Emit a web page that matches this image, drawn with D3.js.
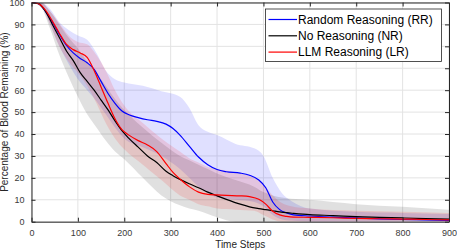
<!DOCTYPE html>
<html>
<head>
<meta charset="utf-8">
<script src="https://cdn.jsdelivr.net/npm/d3@7"></script>
<style>
    body { margin: 0; background: #fff; }
    text { font-family: "Liberation Sans", Arial, sans-serif; }
</style>
</head>
<body>
<div id="chart"></div>
<script>
// time steps for the mean curves
var timeSteps = [0, 15, 30, 45, 60, 75, 90, 105, 120, 135, 150, 165, 180, 195, 210, 230, 250, 270, 290, 305,
    320, 340, 360, 380, 400, 420, 450, 470, 490, 505, 520, 535, 550, 565, 600, 650, 700, 750, 800, 850, 900];

var meanRR = [100, 99.5, 96, 91, 85.5, 80.5, 77, 74.5, 72.5, 69.5, 64, 58.5, 54, 50.5, 48.8, 47.5, 46.5, 45.8, 44.5, 42.5,
    39.5, 34.5, 29.5, 26, 23.8, 22.8, 22.2, 21.2, 19, 15.5, 9, 5.5, 4, 3.1, 2.6, 2.1, 1.7, 1.3, 1.0, 0.8, 0.6];

var meanNR = [100, 99.5, 96, 90, 84, 78, 73.5, 68, 64, 60, 55.5, 51, 46, 41.5, 38, 34, 30, 27, 23, 21,
    19.3, 17.3, 15.5, 13.5, 11.8, 10.2, 8, 6.8, 6, 5.5, 5, 4.5, 4.1, 3.8, 3.2, 2.8, 2.3, 2.0, 1.7, 1.4, 1.2];

var meanLR = [100, 99.5, 96.5, 91.5, 86, 81, 78.5, 77, 75, 69, 61.5, 54, 47, 42, 39.5, 37, 35, 32, 26.5, 22.5,
    19.5, 16, 13.5, 12.5, 12.2, 12, 11.8, 11.4, 10.2, 8, 4.8, 3.1, 2.4, 2.1, 2.0, 1.8, 1.5, 1.35, 1.2, 1.0, 0.8];

// time steps for the shaded spread bands
var bandSteps = [0, 20, 40, 60, 80, 100, 120, 140, 160, 180, 200, 240, 280, 320, 340, 360, 380, 400,
    440, 480, 500, 520, 540, 560, 600, 700, 800, 900];

var upperRR = [100, 100, 97, 91, 87.5, 85, 83, 77, 69, 65, 63.5, 62, 59.5, 57, 52, 44, 41, 39.5,
    35.5, 33.5, 30, 20, 13, 9.5, 6, 4.5, 4, 3.5];
var lowerRR = [100, 98.5, 90, 80, 72, 65, 60, 55, 49, 43, 38, 34, 30, 24, 20, 16, 13, 11,
    10, 9, 7, 3, 1, 0.5, 0, 0, 0, 0];

var upperNR = [100, 100, 96, 90, 84, 79, 73, 68, 62, 56, 51, 43, 36, 30, 28, 26, 24, 22,
    19, 16, 13.5, 12, 11, 10.5, 10, 8, 6.8, 5.5];
var lowerNR = [100, 98, 88, 76, 66, 57, 49, 43, 37, 32, 28.5, 20, 12, 7.5, 6, 5, 3.5, 2,
    0, 0, 0, 0, 0, 0, 0, 0, 0, 0];

var upperLR = [100, 100, 96, 90.5, 85, 82, 81, 76, 69, 60, 53, 45, 38, 32, 29, 27, 25, 24,
    22.5, 20, 17, 12, 8.5, 7, 6, 5, 4.5, 4];
var lowerLR = [100, 98.5, 90, 80, 73, 68, 62, 54, 45, 38, 33, 26, 19, 12, 10, 8, 7, 6,
    5.5, 5, 3, 1, 0, 0, 0, 0, 0, 0];

var xTicks = [0, 100, 200, 300, 400, 500, 600, 700, 800, 900];
var yTicks = [0, 10, 20, 30, 40, 50, 60, 70, 80, 90, 100];

var seriesNames = ["Random Reasoning (RR)", "No Reasoning (NR)", "LLM Reasoning (LR)"];
var seriesColors = ["#0000ff", "#000000", "#ff0000"];

var width = 457,
    height = 251,
    margin = {top: 2.5, right: 8, bottom: 29.3, left: 31.5},
    innerW = width - margin.left - margin.right,
    innerH = height - margin.top - margin.bottom;

var svg = d3.select("#chart").append("svg")
    .attr("width", width)
    .attr("height", height);

var g = svg.append("g")
    .attr("transform", "translate(" + margin.left + "," + margin.top + ")");

var x = d3.scaleLinear().domain([0, 900]).range([0, innerW]);
var y = d3.scaleLinear().domain([0, 100]).range([innerH, 0]);

g.append("clipPath").attr("id", "clip")
    .append("rect")
    .attr("width", innerW)
    .attr("height", innerH);

// grid
g.selectAll(".vgrid").data(xTicks).enter().append("line")
    .attr("x1", function(d) { return x(d); })
    .attr("x2", function(d) { return x(d); })
    .attr("y1", 0).attr("y2", innerH)
    .style("stroke", "#e3e3e3").style("stroke-width", 1);

g.selectAll(".hgrid").data(yTicks).enter().append("line")
    .attr("y1", function(d) { return y(d); })
    .attr("y2", function(d) { return y(d); })
    .attr("x1", 0).attr("x2", innerW)
    .style("stroke", "#e3e3e3").style("stroke-width", 1);

var plot = g.append("g").attr("clip-path", "url(#clip)");

// spread bands
var bands = [
    {upper: upperRR, lower: lowerRR, color: "#0000ff"},
    {upper: upperNR, lower: lowerNR, color: "#000000"},
    {upper: upperLR, lower: lowerLR, color: "#ff0000"}
];

var area = d3.area()
    .x(function(d) { return x(d.t); })
    .y0(function(d) { return y(d.lo); })
    .y1(function(d) { return y(d.hi); })
    .curve(d3.curveMonotoneX);

bands.forEach(function(b) {
    var pts = bandSteps.map(function(t, i) { return {t: t, lo: b.lower[i], hi: b.upper[i]}; });
    plot.append("path")
        .attr("d", area(pts))
        .style("fill", b.color)
        .style("fill-opacity", 0.12)
        .style("stroke", "none");
});

// mean curves
var line = d3.line()
    .x(function(d) { return x(d.t); })
    .y(function(d) { return y(d.v); })
    .curve(d3.curveMonotoneX);

var means = [meanRR, meanNR, meanLR];
means.forEach(function(m, k) {
    var pts = timeSteps.map(function(t, i) { return {t: t, v: m[i]}; });
    plot.append("path")
        .attr("d", line(pts))
        .style("fill", "none")
        .style("stroke", seriesColors[k])
        .style("stroke-width", 1.2);
});

// axes (box with inward ticks on all sides)
var axisColor = "#262626";

var xAxis = d3.axisBottom(x).tickValues(xTicks).tickSizeInner(-4).tickSizeOuter(0).tickPadding(8);
var yAxis = d3.axisLeft(y).tickValues(yTicks).tickSizeInner(-4).tickSizeOuter(0).tickPadding(7);

var gx = g.append("g").attr("transform", "translate(0," + innerH + ")").call(xAxis);
var gy = g.append("g").call(yAxis);

g.append("g").call(d3.axisTop(x).tickValues(xTicks).tickSizeInner(-4).tickSizeOuter(0).tickFormat(""));
g.append("g").attr("transform", "translate(" + innerW + ",0)")
    .call(d3.axisRight(y).tickValues(yTicks).tickSizeInner(-4).tickSizeOuter(0).tickFormat(""));

g.selectAll(".domain").style("stroke", axisColor);
g.selectAll(".tick line").style("stroke", axisColor);
g.selectAll(".tick text")
    .style("font-size", "9px")
    .style("fill", "#3a3a3a");

// axis labels
g.append("text")
    .attr("x", innerW / 2)
    .attr("y", innerH + 26)
    .attr("text-anchor", "middle")
    .style("font-size", "10px")
    .style("fill", "#262626")
    .text("Time Steps");

g.append("text")
    .attr("transform", "translate(" + (-margin.left + 8) + "," + (innerH / 2) + ") rotate(-90)")
    .attr("text-anchor", "middle")
    .style("font-size", "10px")
    .style("fill", "#262626")
    .text("Percentage of Blood Remaining (%)");

// legend
var legend = svg.append("g").attr("transform", "translate(265.5,9)");

legend.append("rect")
    .attr("width", 176)
    .attr("height", 52.5)
    .style("fill", "#fff")
    .style("stroke", "#262626")
    .style("stroke-width", 0.8);

seriesNames.forEach(function(name, i) {
    var ly = 10.5 + i * 16.3;
    legend.append("line")
        .attr("x1", 3).attr("x2", 31.5)
        .attr("y1", ly).attr("y2", ly)
        .style("stroke", seriesColors[i])
        .style("stroke-width", 1.2);
    legend.append("text")
        .attr("x", 32.5)
        .attr("y", ly)
        .attr("dy", "0.35em")
        .style("font-size", "12px")
        .style("fill", "#000")
        .text(name);
});
</script>
</body>
</html>
